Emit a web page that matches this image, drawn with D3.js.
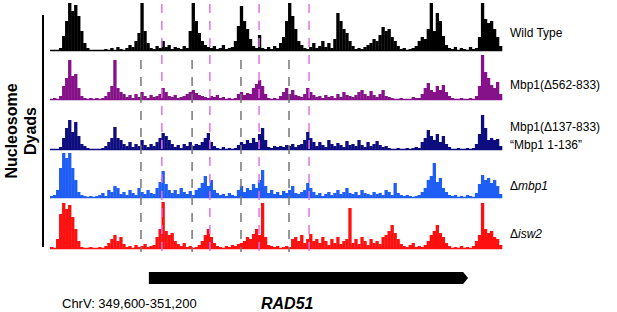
<!DOCTYPE html>
<html>
<head>
<meta charset="utf-8">
<script src="https://cdn.jsdelivr.net/npm/d3@7"></script>
<style>
  body { margin: 0; background: #fff; }
  svg { display: block; font-family: "Liberation Sans", Arial, sans-serif; }
</style>
</head>
<body>
<svg id="chart" width="617" height="312"></svg>
<script>
// region shown (bp) and gene
const region = [349600, 351200];
const gene = { name: "RAD51", start: 349950, end: 351080 };

// nucleosome dyad counts, 150 bins across the region
const wildType = [1,1,1,3,15,30,48,40,46,35,20,8,3,1,1,1,1,1,2,1,3,1,4,2,1,3,6,4,10,18,48,20,8,
  3,2,5,3,10,4,6,2,4,3,2,5,3,20,48,30,18,10,6,4,3,5,2,3,6,2,3,4,10,25,45,30,22,12,5,3,16,
  3,2,4,2,5,3,8,14,30,48,35,22,10,6,3,2,4,8,3,5,10,4,8,3,12,38,30,22,18,10,5,2,3,2,4,
  6,8,12,10,16,24,20,22,14,10,5,2,3,1,2,3,5,10,14,12,22,48,20,38,30,15,6,3,2,4,1,3,2,1,4,2,3,
  14,48,32,28,30,22,14,5];
const mbp1d562 = [1,2,1,4,14,22,40,24,26,12,4,2,1,2,1,2,1,2,4,8,14,40,12,8,6,3,5,2,6,3,8,
  4,2,5,3,4,6,12,8,4,3,5,2,3,4,6,8,10,7,5,4,3,2,4,3,5,2,3,1,2,1,2,6,8,5,7,6,12,16,20,14,6,
  2,1,2,1,4,8,12,6,10,5,4,3,6,12,8,5,3,4,2,5,3,4,2,6,3,8,5,4,3,5,8,10,6,4,9,5,3,6,10,4,3,2,
  1,1,2,1,1,1,3,2,2,6,12,17,10,8,14,10,15,8,4,2,1,1,2,1,1,2,1,4,14,45,28,22,15,12,18,6];
const mbp1d137 = [1,1,1,3,12,22,30,18,28,14,6,4,2,1,1,1,1,2,4,8,12,23,12,10,6,4,8,3,6,4,
  10,5,3,6,4,8,12,17,14,10,6,3,5,2,6,4,8,4,6,5,8,12,17,8,4,2,1,3,1,2,1,2,5,8,6,10,7,12,8,16,22,10,
  3,2,4,3,4,3,5,4,6,3,5,6,10,18,12,8,4,8,5,3,10,6,4,7,5,3,9,5,6,4,10,5,3,8,4,6,9,5,3,4,2,1,
  1,2,1,1,2,1,2,3,2,8,12,20,14,10,16,8,14,6,3,1,1,2,1,1,2,1,2,6,16,35,22,10,12,10,11,4];
const mbp1null = [2,3,8,30,45,40,45,30,18,6,3,2,1,2,1,2,3,5,2,8,6,12,10,4,6,3,8,5,3,10,
  6,4,8,5,4,10,16,27,14,8,5,8,4,10,6,4,7,3,8,10,15,22,12,18,8,5,3,4,2,5,3,2,
  8,12,6,10,8,14,10,18,28,12,5,8,4,6,3,7,5,8,12,5,4,6,8,15,10,6,3,5,2,4,6,3,5,8,4,6,10,5,
  4,6,3,8,5,4,3,6,4,5,3,8,6,3,15,5,3,2,3,2,1,2,3,6,10,18,22,35,16,20,10,6,3,2,3,1,2,1,3,2,1,5,
  14,23,18,20,15,18,12,4];
const isw2null = [2,1,10,35,46,40,44,32,20,8,2,1,1,2,1,1,2,1,3,6,10,14,8,12,5,2,3,1,4,2,3,5,2,3,4,
  12,20,47,18,14,16,8,5,3,6,2,3,1,2,4,8,14,20,12,6,3,2,1,3,2,4,3,5,6,8,12,10,15,20,14,46,12,
  4,3,2,3,1,2,3,2,10,12,8,14,6,10,15,8,10,6,12,8,4,10,6,12,5,8,10,41,
  6,10,5,12,8,4,10,6,8,5,12,14,18,24,16,10,5,3,2,4,6,2,3,2,4,8,14,18,24,16,12,6,3,
  1,2,1,3,1,2,1,3,8,14,46,20,16,18,12,10,4];

const tracks = [wildType, mbp1d562, mbp1d137, mbp1null, isw2null];
const trackColors = ["#000000", "#86128a", "#0d0d80", "#1f5ef5", "#ff1010"];

// dashed guide positions (bp)
const grayMarks = [349922, 350103, 350276, 350446];
const pinkMarks = [349996, 350166, 350340, 350517];

const svg = d3.select("#chart");
const baselines = [51, 100, 150, 198, 249];
const trackH = 48;

const x = d3.scaleLinear().domain(region).range([50, 502]);
const nBins = wildType.length;
const binW = (region[1] - region[0]) / nBins;

// left label
svg.append("line").attr("x1", 43).attr("x2", 43).attr("y1", 15).attr("y2", 247)
  .attr("stroke", "#000").attr("stroke-width", 2);
const lab = svg.append("text")
  .attr("transform", "translate(0,131) rotate(-90)")
  .attr("text-anchor", "middle")
  .style("font-weight", "bold").style("font-size", "16px");
lab.append("tspan").attr("x", 0).attr("y", 17).text("Nucleosome");
lab.append("tspan").attr("x", 0).attr("y", 36).text("Dyads");

// histograms
tracks.forEach((vals, k) => {
  const y = d3.scaleLinear().domain([0, trackH]).range([baselines[k], baselines[k] - trackH]);
  const g = svg.append("g");
  g.selectAll("rect").data(vals).join("rect")
    .attr("x", (d, i) => x(region[0] + i * binW))
    .attr("width", x(region[0] + binW) - x(region[0]) + 0.3)
    .attr("y", d => y(d))
    .attr("height", d => y(0) - y(d))
    .attr("fill", trackColors[k]);
  g.append("line")
    .attr("x1", x(region[0])).attr("x2", x(region[1]))
    .attr("y1", y(0) - 0.5).attr("y2", y(0) - 0.5)
    .attr("stroke", trackColors[k]).attr("stroke-width", 1.5);
});

// dashed guides
svg.selectAll(".gray").data(grayMarks).join("line")
  .attr("x1", d => x(d)).attr("x2", d => x(d))
  .attr("y1", 60).attr("y2", 252)
  .attr("stroke", "#777").attr("stroke-width", 1.5).attr("stroke-dasharray", "9,8");
svg.selectAll(".pink").data(pinkMarks).join("line")
  .attr("x1", d => x(d)).attr("x2", d => x(d))
  .attr("y1", 4).attr("y2", 252)
  .attr("stroke", "#e374e8").attr("stroke-width", 1.5).attr("stroke-dasharray", "9,8");

// right labels
const right = svg.append("g").style("font-size", "12px");
right.append("text").attr("x", 510).attr("y", 37).text("Wild Type");
right.append("text").attr("x", 510).attr("y", 89).text("Mbp1(Δ562-833)");
right.append("text").attr("x", 510).attr("y", 131).text("Mbp1(Δ137-833)");
right.append("text").attr("x", 510).attr("y", 149).text("“Mbp1 1-136”");
const t4 = right.append("text").attr("x", 510).attr("y", 190);
t4.append("tspan").text("Δ");
t4.append("tspan").style("font-style", "italic").text("mbp1");
const t5 = right.append("text").attr("x", 510).attr("y", 238);
t5.append("tspan").text("Δ");
t5.append("tspan").style("font-style", "italic").text("isw2");

// gene arrow
const ay = 278, ah = 12;
svg.append("path")
  .attr("d", d3.line()([
    [x(gene.start), ay - ah / 2], [x(gene.end) - 5, ay - ah / 2], [x(gene.end), ay],
    [x(gene.end) - 5, ay + ah / 2], [x(gene.start), ay + ah / 2]]) + "Z")
  .attr("fill", "#000");

svg.append("text").attr("x", 62).attr("y", 308).style("font-size", "13px")
  .text("ChrV: " + d3.format(",")(region[0]) + "-" + d3.format(",")(region[1]));
svg.append("text").attr("x", 261).attr("y", 309)
  .style("font-size", "16px").style("font-weight", "bold").style("font-style", "italic")
  .text(gene.name);
</script>
</body>
</html>
